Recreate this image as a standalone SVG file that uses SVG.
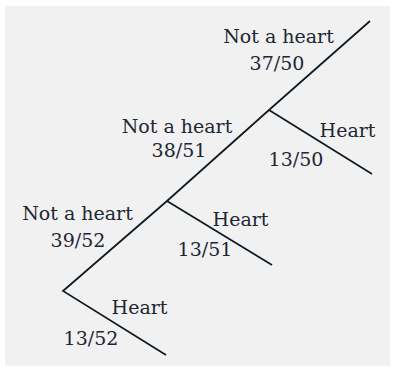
<svg xmlns="http://www.w3.org/2000/svg" width="395" height="371" viewBox="0 0 395 371">
<style>
.bg{fill:#f1f1f1}
.edge{stroke:#0d1a24;stroke-width:1.7;fill:none;stroke-linecap:butt}
text{font-family:"DejaVu Serif","Liberation Serif",serif;font-size:19px;fill:#1c2733;text-anchor:middle}
</style>
<rect class="bg" x="5" y="6" width="385" height="360"/>
<g id="connectors">
<polyline class="edge" points="370,21 269,110 167,201 63,291 166,355"/>
<line class="edge" x1="269" y1="110" x2="372" y2="174"/>
<line class="edge" x1="167" y1="201" x2="272" y2="265"/>
</g>
<g id="node-top">
<text x="278.5" y="42.5">Not a heart</text>
<text x="277" y="70">37/50</text>
</g>
<g id="node-n2">
<text x="177" y="133">Not a heart</text>
<text x="179" y="157">38/51</text>
</g>
<g id="node-h1">
<text x="347.5" y="136.5">Heart</text>
<text x="296" y="166">13/50</text>
</g>
<g id="node-n3">
<text x="77.5" y="220">Not a heart</text>
<text x="78" y="246.5">39/52</text>
</g>
<g id="node-h2">
<text x="240.5" y="225.5">Heart</text>
<text x="205" y="256">13/51</text>
</g>
<g id="node-h3">
<text x="139.5" y="314">Heart</text>
<text x="91" y="345">13/52</text>
</g>
</svg>
